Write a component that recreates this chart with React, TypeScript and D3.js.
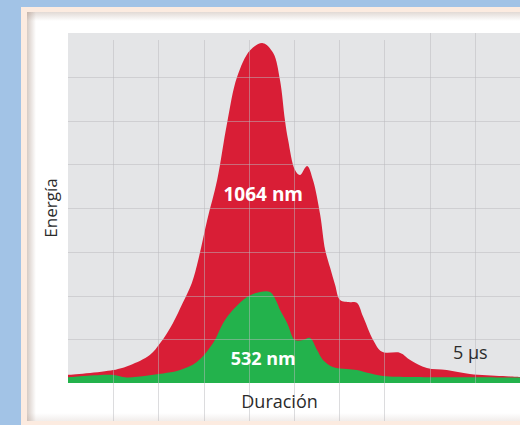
import * as d3 from "d3";

// pulse energy vs time
const redTime = [0, 1.0, 1.37, 1.81, 2.04, 2.32, 2.54, 2.74, 2.88, 3.08, 3.3, 3.52, 3.74, 4.03, 4.31, 4.54, 4.69, 4.8, 4.87, 5.02, 5.13, 5.29, 5.42, 5.58, 5.69, 5.8, 5.91, 6.02, 6.24, 6.39, 6.53, 6.75, 6.95, 7.35, 7.57, 7.94, 8.38, 8.89, 9.62, 10];
const redEnergy = [2.3, 3.7, 5.1, 8.0, 11.4, 17.1, 22.9, 28.6, 35.1, 46.6, 58.0, 74.3, 87.4, 95.1, 97.1, 94.3, 86.6, 75.1, 69.4, 60.9, 59.4, 62.0, 58.0, 48.0, 38.0, 32.9, 28.0, 23.7, 23.1, 22.9, 18.9, 12.3, 8.9, 8.6, 6.6, 4.3, 3.7, 2.6, 2.0, 1.7];

const greenTime = [0, 1.0, 1.3, 2.19, 2.48, 2.85, 3.21, 3.43, 3.65, 3.96, 4.25, 4.47, 4.62, 4.69, 4.85, 5.02, 5.2, 5.35, 5.51, 5.64, 5.86, 6.17, 6.39, 6.62, 6.97, 7.63, 10];
const greenEnergy = [1.6, 2.3, 1.6, 2.9, 3.7, 6.0, 11.4, 17.1, 20.9, 24.6, 26.0, 26.0, 23.1, 20.9, 17.1, 12.3, 12.3, 12.9, 9.4, 6.6, 4.6, 4.0, 3.7, 2.9, 2.0, 1.7, 1.6];

const xTicks = [1, 2, 3, 4, 5, 6, 7, 8, 9];
const yTicks = [12.5, 25, 37.5, 50, 62.5, 75, 87.5];

const W = 520;
const H = 425;
const margin = { left: 68, top: 33, right: 0, bottom: 42 };
const font = "'Open Sans', 'Noto Sans', sans-serif";

export default function App() {
  const x = d3.scaleLinear().domain([0, 10]).range([margin.left, W - margin.right]);
  const y = d3.scaleLinear().domain([0, 100]).range([H - margin.bottom, margin.top]);

  const area = d3
    .area<[number, number]>()
    .x((d) => x(d[0]))
    .y0(y(0))
    .y1((d) => y(d[1]))
    .curve(d3.curveCatmullRom.alpha(0.5));

  const red = redTime.map((t, i) => [t, redEnergy[i]] as [number, number]);
  const green = greenTime.map((t, i) => [t, greenEnergy[i]] as [number, number]);

  const shadow = "#8a6a58";

  return (
    <svg
      width={W}
      height={H}
      style={{ position: "absolute", left: 0, top: 0, display: "block" }}
    >
      <defs>
        <linearGradient id="shL" x1="0" x2="1" y1="0" y2="0">
          <stop offset="0" stopColor={shadow} stopOpacity={0.35} />
          <stop offset="1" stopColor={shadow} stopOpacity={0} />
        </linearGradient>
        <linearGradient id="shT" x1="0" x2="0" y1="0" y2="1">
          <stop offset="0" stopColor={shadow} stopOpacity={0.25} />
          <stop offset="1" stopColor={shadow} stopOpacity={0} />
        </linearGradient>
        <linearGradient id="shB" x1="0" x2="0" y1="1" y2="0">
          <stop offset="0" stopColor={shadow} stopOpacity={0.12} />
          <stop offset="1" stopColor={shadow} stopOpacity={0} />
        </linearGradient>
      </defs>

      {/* page background + frame */}
      <rect width={W} height={H} fill="#a2c3e6" />
      <rect x={21} y={7} width={W} height={H} fill="#fcebe0" />
      <rect x={27} y={12} width={W} height={409} fill="#ffffff" />
      <rect x={27} y={12} width={W} height={9} fill="url(#shT)" />
      <rect x={27} y={12} width={9} height={409} fill="url(#shL)" />
      <rect x={27} y={413} width={W} height={8} fill="url(#shB)" />

      {/* plot */}
      <rect
        x={margin.left}
        y={margin.top}
        width={W - margin.left - margin.right}
        height={H - margin.top - margin.bottom}
        fill="#e4e5e7"
      />
      <path d={area(red) ?? ""} fill="#d91e36" />
      <path d={area(green) ?? ""} fill="#23b24c" />

      <g stroke="#b9babd" strokeOpacity={0.5} strokeWidth={1}>
        {yTicks.map((t) => (
          <line
            key={"h" + t}
            x1={margin.left}
            x2={W}
            y1={Math.round(y(t)) + 0.5}
            y2={Math.round(y(t)) + 0.5}
          />
        ))}
        {xTicks.map((t) => (
          <line
            key={"v" + t}
            x1={Math.round(x(t)) + 0.5}
            x2={Math.round(x(t)) + 0.5}
            y1={t < 8 ? 40 : margin.top}
            y2={t < 8 ? 421 : y(0)}
          />
        ))}
      </g>

      <text
        x={x(4.32)}
        y={201}
        textAnchor="middle"
        fill="#fff"
        fontFamily={font}
        fontWeight="bold"
        fontSize={19}
      >
        1064 nm
      </text>
      <text
        x={x(4.32)}
        y={365}
        textAnchor="middle"
        fill="#fff"
        fontFamily={font}
        fontWeight="bold"
        fontSize={18}
      >
        532 nm
      </text>
      <text
        x={x(8.9)}
        y={359}
        textAnchor="middle"
        fill="#2b2b2b"
        fontFamily={font}
        fontSize={18}
      >
        5 µs
      </text>
      <text
        x={x(4.68)}
        y={408}
        textAnchor="middle"
        fill="#2b2b2b"
        fontFamily={font}
        fontSize={18}
      >
        Duración
      </text>
      <text
        transform={`translate(57, ${(margin.top + H - margin.bottom) / 2}) rotate(-90)`}
        textAnchor="middle"
        fill="#2b2b2b"
        fontFamily={font}
        fontSize={17}
      >
        Energía
      </text>
    </svg>
  );
}
